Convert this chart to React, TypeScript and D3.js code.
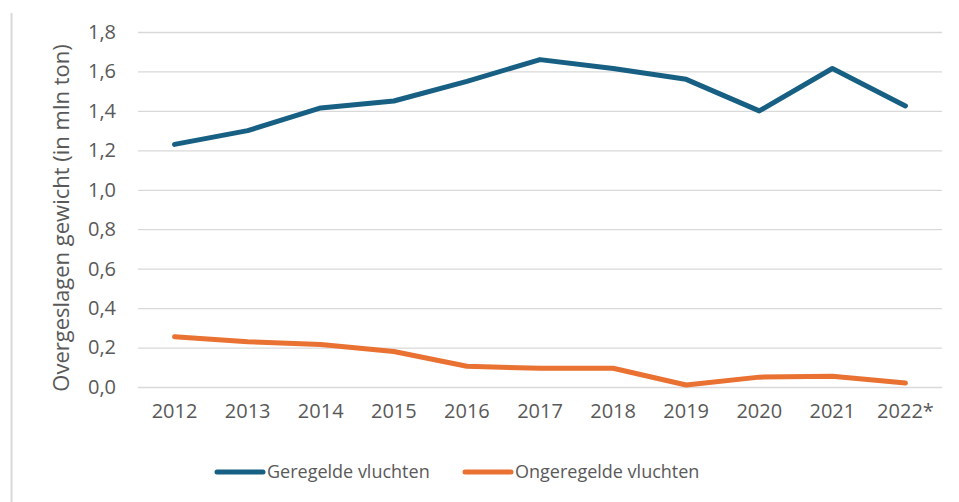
import React, { useEffect, useRef } from 'react'
import * as d3 from 'd3'

const years = ['2012', '2013', '2014', '2015', '2016', '2017', '2018', '2019', '2020', '2021', '2022*']
const geregeld = [1.23, 1.3, 1.415, 1.45, 1.55, 1.66, 1.615, 1.56, 1.4, 1.615, 1.425]
const ongeregeld = [0.255, 0.23, 0.215, 0.18, 0.105, 0.095, 0.095, 0.01, 0.05, 0.055, 0.02]
const yTicks = [0, 0.2, 0.4, 0.6, 0.8, 1.0, 1.2, 1.4, 1.6, 1.8]
const seriesNames = ['Geregelde vluchten', 'Ongeregelde vluchten']
const colors = ['#176083', '#e97132']

const W = 959
const H = 502
const FONT = '"Open Sans", "Noto Sans", sans-serif'

export default function App() {
    const ref = useRef<SVGSVGElement>(null)

    useEffect(() => {
        const svg = d3.select(ref.current)
        svg.selectAll('*').remove()

        const x = d3.scaleBand().domain(years).range([138, 942])
        const y = d3.scaleLinear().domain([0, 1.8]).range([387, 32])

        // left frame line
        svg.append('line')
            .attr('x1', 11.5).attr('x2', 11.5)
            .attr('y1', 13).attr('y2', H)
            .attr('stroke', '#d9d9d9').attr('stroke-width', 2)

        const yAxis = d3.axisLeft(y)
            .tickValues(yTicks)
            .tickSize(-(942 - 138))
            .tickPadding(22)
            .tickFormat((d) => d3.format('.1f')(d as number).replace('.', ','))

        const gy = svg.append('g').attr('transform', 'translate(138,0)').call(yAxis)
        gy.select('.domain').remove()
        gy.selectAll('.tick line').attr('stroke', '#d9d9d9').attr('stroke-width', 1.3)
        gy.selectAll('.tick text')
            .attr('fill', '#595959')
            .style('font-family', FONT)
            .style('font-size', '20px')

        const xAxis = d3.axisBottom(x).tickSize(0).tickPadding(17)
        const gx = svg.append('g').attr('transform', 'translate(0,387)').call(xAxis)
        gx.select('.domain').remove()
        gx.selectAll('.tick text')
            .attr('fill', '#595959')
            .attr('dy', '0.71em')
            .style('font-family', FONT)
            .style('font-size', '20px')

        svg.append('text')
            .attr('transform', 'translate(69,218) rotate(-90)')
            .attr('text-anchor', 'middle')
            .attr('fill', '#595959')
            .style('font-family', FONT)
            .style('font-size', '22px')
            .text('Overgeslagen gewicht (in mln ton)')

        const line = d3.line<number>()
            .x((_, i) => (x(years[i]) as number) + x.bandwidth() / 2)
            .y((d) => y(d))

        ;[geregeld, ongeregeld].forEach((s, i) => {
            svg.append('path')
                .datum(s)
                .attr('d', line)
                .attr('fill', 'none')
                .attr('stroke', colors[i])
                .attr('stroke-width', 5)
                .attr('stroke-linecap', 'round')
                .attr('stroke-linejoin', 'round')
        })

        // legend
        const legendX = [215, 463]
        seriesNames.forEach((name, i) => {
            const g = svg.append('g').attr('transform', `translate(${legendX[i]},472)`)
            g.append('line')
                .attr('x1', 2).attr('x2', 48)
                .attr('stroke', colors[i])
                .attr('stroke-width', 5)
                .attr('stroke-linecap', 'round')
            g.append('text')
                .attr('x', 52)
                .attr('dy', '0.35em')
                .attr('fill', '#595959')
                .style('font-family', FONT)
                .style('font-size', '18px')
                .text(name)
        })
    }, [])

    return (
        <svg ref={ref} width={W} height={H} style={{ position: 'absolute', left: 0, top: 0, background: '#fff' }} />
    )
}
